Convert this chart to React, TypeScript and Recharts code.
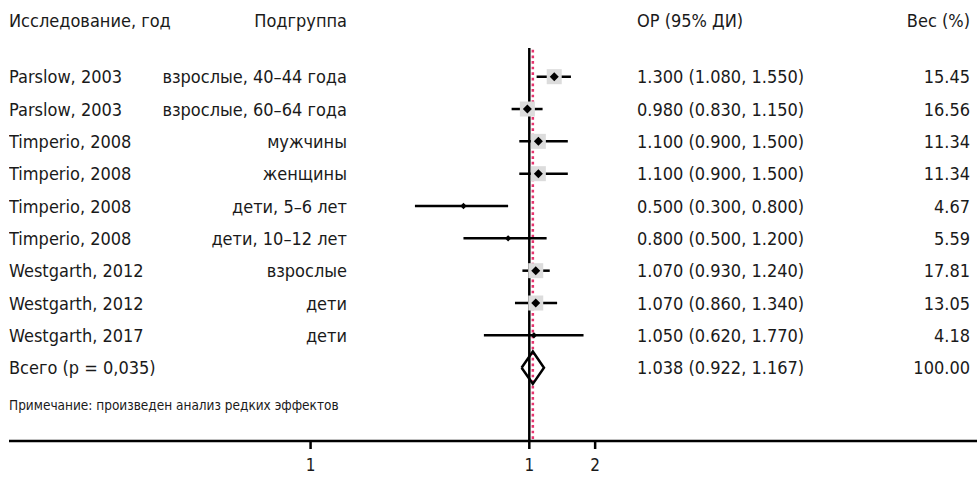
import { ComposedChart, Scatter, ErrorBar, XAxis, YAxis, ReferenceLine } from 'recharts';

const headers = ['Исследование, год', 'Подгруппа', 'ОР (95% ДИ)', 'Вес (%)'];
const studies = [
  'Parslow, 2003', 'Parslow, 2003', 'Timperio, 2008', 'Timperio, 2008', 'Timperio, 2008',
  'Timperio, 2008', 'Westgarth, 2012', 'Westgarth, 2012', 'Westgarth, 2017',
];
const subgroups = [
  'взрослые, 40–44 года', 'взрослые, 60–64 года', 'мужчины', 'женщины', 'дети, 5–6 лет',
  'дети, 10–12 лет', 'взрослые', 'дети', 'дети',
];
const rr = [1.3, 0.98, 1.1, 1.1, 0.5, 0.8, 1.07, 1.07, 1.05];
const ciLow = [1.08, 0.83, 0.9, 0.9, 0.3, 0.5, 0.93, 0.86, 0.62];
const ciHigh = [1.55, 1.15, 1.5, 1.5, 0.8, 1.2, 1.24, 1.34, 1.77];
const weights = [15.45, 16.56, 11.34, 11.34, 4.67, 5.59, 17.81, 13.05, 4.18];

const overallLabel = 'Всего (p = 0,035)';
const overallRR = 1.038;
const overallLow = 0.922;
const overallHigh = 1.167;
const overallWeight = 100;

const note = 'Примечание: произведен анализ редких эффектов';

const xTicks = [0.1, 1, 2];
const xTickLabels = ['1', '1', '2'];

const FONT = "'DejaVu Sans Condensed', 'DejaVu Sans', sans-serif";
const HEADER_POS = -0.74;
const OVERALL_POS = studies.length + 1;
const NOTE_POS = OVERALL_POS + 1.15;

const fmtCI = (v: number, lo: number, hi: number) =>
  `${v.toFixed(3)} (${lo.toFixed(3)}, ${hi.toFixed(3)})`;

const studyData = studies.map((s, i) => ({
  x: rr[i],
  row: i + 1,
  err: [rr[i] - ciLow[i], ciHigh[i] - rr[i]],
  w: weights[i],
}));

const diamondData = [
  { x: overallLow, row: OVERALL_POS },
  { x: overallRR, row: OVERALL_POS - 0.5 },
  { x: overallHigh, row: OVERALL_POS },
  { x: overallRR, row: OVERALL_POS + 0.5 },
  { x: overallLow, row: OVERALL_POS },
];

const tableRows = [
  { x: 1, row: HEADER_POS, kind: 'row', cells: headers },
  ...studies.map((s, i) => ({
    x: 1,
    row: i + 1,
    kind: 'row',
    cells: [s, subgroups[i], fmtCI(rr[i], ciLow[i], ciHigh[i]), weights[i].toFixed(2)],
  })),
  {
    x: 1,
    row: OVERALL_POS,
    kind: 'row',
    cells: [overallLabel, '', fmtCI(overallRR, overallLow, overallHigh), overallWeight.toFixed(2)],
  },
  { x: 1, row: NOTE_POS, kind: 'note', cells: [note] },
];

// text columns, placed on the row's y from the y scale
const RowText = (props: any) => {
  const { cy, payload } = props;
  if (payload.kind === 'note') {
    return (
      <text x={9} y={cy} dominantBaseline="central" fontFamily={FONT} fontSize={13.5} fill="#1a1a1a">
        {payload.cells[0]}
      </text>
    );
  }
  return (
    <g fontFamily={FONT} fontSize={18} fill="#1a1a1a">
      <text x={9} y={cy} dominantBaseline="central">{payload.cells[0]}</text>
      <text x={347} y={cy} dominantBaseline="central" textAnchor="end">{payload.cells[1]}</text>
      <text x={637} y={cy} dominantBaseline="central">{payload.cells[2]}</text>
      <text x={970} y={cy} dominantBaseline="central" textAnchor="end">{payload.cells[3]}</text>
    </g>
  );
};

const StudyMark = (props: any) => {
  const { cx, cy, payload } = props;
  const big = payload.w > 10;
  const h = big ? 4.5 : 3.2;
  return (
    <g>
      {big && <rect x={cx - 7.5} y={cy - 7.5} width={15} height={15} fill="#dcdcdc" />}
      <polygon points={`${cx - h},${cy} ${cx},${cy - h} ${cx + h},${cy} ${cx},${cy + h}`} fill="#000" />
    </g>
  );
};

export default function App() {
  return (
    <div style={{ position: 'absolute', left: 0, top: 0, background: '#fff' }}>
      <ComposedChart width={977} height={477} margin={{ top: 0, right: 0, left: 9, bottom: 0 }}>
        <XAxis
          dataKey="x"
          type="number"
          scale="log"
          domain={[0.00418, 111.4]}
          allowDataOverflow
          ticks={xTicks}
          tickFormatter={(v: number) => xTickLabels[xTicks.indexOf(v)] ?? ''}
          height={36}
          axisLine={{ stroke: '#000', strokeWidth: 2.5 }}
          tickLine={{ stroke: '#000', strokeWidth: 2.5 }}
          tickSize={8}
          tickMargin={10}
          tick={{ fill: '#1a1a1a', fontSize: 17, fontFamily: FONT }}
        />
        <YAxis
          dataKey="row"
          type="number"
          domain={[-1.372, 12.268]}
          allowDataOverflow
          reversed
          hide
        />
        <Scatter data={tableRows} shape={<RowText />} isAnimationActive={false} />
        <ReferenceLine
          segment={[{ x: 1, y: 0.11 }, { x: 1, y: 12.268 }]}
          stroke="#000"
          strokeWidth={2.5}
        />
        <ReferenceLine
          segment={[{ x: overallRR, y: 0.17 }, { x: overallRR, y: 12.268 }]}
          stroke="#e6336e"
          strokeWidth={2.5}
          strokeDasharray="2.7 2.9"
        />
        <Scatter
          data={studyData}
          shape={<StudyMark />}
          isAnimationActive={false}
        >
          <ErrorBar dataKey="err" direction="x" width={0} stroke="#000" strokeWidth={2.5} />
        </Scatter>
        <Scatter
          data={diamondData}
          line={{ stroke: '#000', strokeWidth: 2.5 }}
          lineJointType="linear"
          shape={() => <g />}
          isAnimationActive={false}
        />
      </ComposedChart>
    </div>
  );
}
